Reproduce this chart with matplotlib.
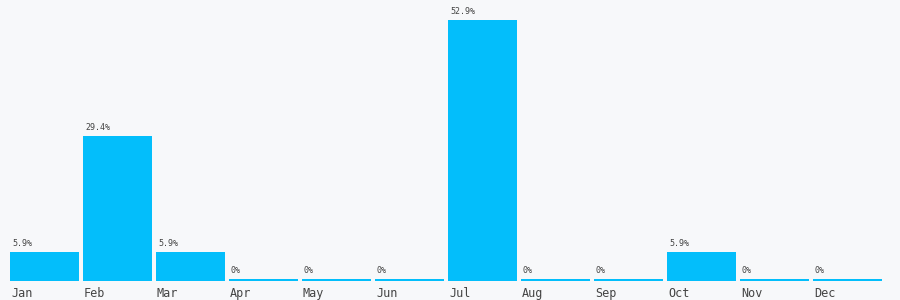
import numpy as np
import matplotlib.pyplot as plt

months = ["Jan", "Feb", "Mar", "Apr", "May", "Jun",
          "Jul", "Aug", "Sep", "Oct", "Nov", "Dec"]
shares = [5.9, 29.4, 5.9, 0, 0, 0, 52.9, 0, 0, 5.9, 0, 0]
labels = ["5.9%", "29.4%", "5.9%", "0%", "0%", "0%",
          "52.9%", "0%", "0%", "5.9%", "0%", "0%"]

bg = "#f7f8fa"
bar_color = "#03befb"
text_color = "#444444"

fig = plt.figure(figsize=(9, 3), dpi=100, facecolor=bg)
# axes spans from left edge of Jan bar to right edge of Dec bar
ax = fig.add_axes([10 / 900, 19 / 300, 872 / 900, 261 / 300])
ax.set_facecolor(bg)

x = np.arange(len(months))
width = 69 / 73
min_h = 2 / 261 * max(shares)  # zero bars still show a thin line
heights = [max(v, min_h) for v in shares]
ax.bar(x, heights, width=width, color=bar_color, linewidth=0)

ax.set_xlim(-width / 2, len(months) - 1 + width / 2)
ax.set_ylim(0, max(shares))

for xi, h, lab in zip(x, heights, labels):
    ax.annotate(lab, (xi - width / 2, h), xytext=(2, 4), textcoords="offset pixels",
                ha="left", va="bottom", fontsize=6, family="DejaVu Sans Mono",
                color=text_color)
    ax.annotate(months[xi], (xi - width / 2, 0), xytext=(1, -6), textcoords="offset pixels",
                ha="left", va="top", fontsize=8.5, family="DejaVu Sans Mono",
                color=text_color, annotation_clip=False)

ax.axis("off")
fig.savefig("out.png", dpi=100, facecolor=bg)
